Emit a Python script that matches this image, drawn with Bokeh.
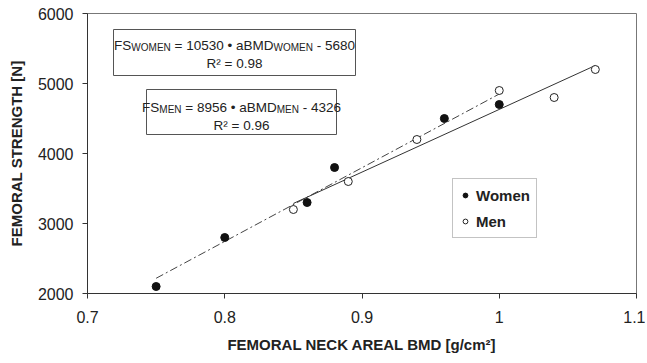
from bokeh.plotting import figure
from bokeh.models import Range1d, BoxAnnotation, Legend, LegendItem, FixedTicker
from bokeh.core.properties import value
from bokeh.embed import file_html
from bokeh.resources import INLINE

# ---- data ----
women_bmd = [0.75, 0.80, 0.86, 0.88, 0.96, 1.00]
women_fs = [2100, 2800, 3300, 3800, 4500, 4700]
men_bmd = [0.85, 0.89, 0.94, 1.00, 1.04, 1.07]
men_fs = [3200, 3600, 4200, 4900, 4800, 5200]

women_slope, women_intercept, women_r2 = 10530, -5680, 0.98
men_slope, men_intercept, men_r2 = 8956, -4326, 0.96
women_fit_x = [0.75, 1.00]
men_fit_x = [0.85, 1.07]

x_ticks = [0.7, 0.8, 0.9, 1.0, 1.1]
x_tick_labels = ["0.7", "0.8", "0.9", "1", "1.1"]
y_ticks = [2000, 3000, 4000, 5000, 6000]

FONT = "Liberation Sans"

# ---- layout (figure pixels) ----
FL, FT, FW, FH = 87, 13, 549, 280  # frame left/top/width/height
X0, X1, Y0, Y1 = 0.7, 1.1, 2000, 6000


def fx(px):
    return X0 + (px - FL) / FW * (X1 - X0)


def fy(py):
    return Y0 + (FT + FH - py) / FH * (Y1 - Y0)


p = figure(width=645, height=360, output_backend="svg", toolbar_location=None,
           x_range=Range1d(X0, X1), y_range=Range1d(Y0, Y1),
           min_border_left=87, min_border_right=9, min_border_top=13, min_border_bottom=67)
p.grid.grid_line_color = None
p.outline_line_color = "#777777"
p.outline_line_width = 1
p.background_fill_color = "white"

for ax in (p.xaxis[0], p.yaxis[0]):
    ax.axis_line_color = "#333333"
    ax.major_tick_line_color = "#333333"
    ax.major_tick_out = 5
    ax.major_tick_in = 0
    ax.minor_tick_line_color = None
    ax.major_label_text_font = FONT
    ax.major_label_text_font_size = "16px"
    ax.major_label_text_color = "#222222"
    ax.axis_label_text_font = FONT
    ax.axis_label_text_font_size = "15px"
    ax.axis_label_text_font_style = "bold"
    ax.axis_label_text_color = "#222222"

p.xaxis.ticker = FixedTicker(ticks=x_ticks)
p.xaxis.major_label_overrides = {t: l for t, l in zip(x_ticks, x_tick_labels)}
p.yaxis.ticker = FixedTicker(ticks=y_ticks)
p.xaxis.axis_label = "FEMORAL NECK AREAL BMD [g/cm²]"
p.yaxis.axis_label = "FEMORAL STRENGTH [N]"
p.xaxis.major_label_standoff = 12
p.xaxis.axis_label_standoff = 10
p.yaxis.major_label_standoff = 9
p.yaxis.axis_label_standoff = 10

# ---- fit lines ----
women_fit_y = [women_slope * x + women_intercept for x in women_fit_x]
men_fit_y = [men_slope * x + men_intercept for x in men_fit_x]
p.line(women_fit_x, women_fit_y, line_color="#444444", line_width=1, line_dash="8 3 2 3")
p.line(men_fit_x, men_fit_y, line_color="#333333", line_width=1)

# ---- points ----
rw = p.scatter(women_bmd, women_fs, marker="circle", size=8, fill_color="#111111",
               line_color="#111111")
rm = p.scatter(men_bmd, men_fs, marker="circle", size=8, fill_color="white",
               line_color="#222222", line_width=1)

# ---- equation boxes ----
W = {" ": 278, "=": 584, "•": 350, ".": 278, "-": 333, "a": 556, "B": 667, "D": 722,
     "E": 667, "F": 611, "M": 833, "N": 722, "O": 778, "R": 722, "S": 667, "W": 944, "²": 333}


def tw(s, size):
    return sum(W.get(c, 556) for c in s) * size / 1000.0


def rich(pieces, cx, base):
    total = sum(tw(t, sz) for t, sz, dy in pieces)
    x = cx - total / 2.0
    for t, sz, dy in pieces:
        lead = len(t) - len(t.lstrip(" "))
        x += tw(" " * lead, sz)
        core = t.strip(" ")
        p.text(x=[fx(x)], y=[fy(base + dy)], text=[core], text_font=value(FONT),
               text_font_size=f"{sz}px", text_baseline="alphabetic", text_align="left",
               text_color="#222222")
        x += tw(t.lstrip(" "), sz)


def box(l, r, t, b):
    p.add_layout(BoxAnnotation(left=fx(l), right=fx(r), top=fy(t), bottom=fy(b),
                               fill_color="white", fill_alpha=1.0, level="underlay",
                               line_color="#555555", line_width=1, line_alpha=1.0))


M, S = 13.5, 10
box(113, 355, 29, 75)
rich([("FS", M, 0), ("WOMEN", S, 2), (f" = {women_slope} • aBMD", M, 0), ("WOMEN", S, 2),
      (f" - {-women_intercept}", M, 0)], 234, 45)
rich([(f"R² = {women_r2}", M, 0)], 234, 63)

box(146, 336, 89, 134)
rich([("FS", M, 0), ("MEN", S, 2), (f" = {men_slope} • aBMD", M, 0), ("MEN", S, 2),
      (f" - {-men_intercept}", M, 0)], 241, 107)
rich([(f"R² = {men_r2}", M, 0)], 241, 125)

# ---- legend ----
legend = Legend(items=[LegendItem(label="Women", renderers=[rw]),
                       LegendItem(label="Men", renderers=[rm])],
                location=(365, 55), orientation="vertical",
                label_text_font=FONT, label_text_font_size="15px",
                label_text_font_style="bold", label_text_color="#222222",
                glyph_width=12, glyph_height=20, label_height=20, label_standoff=5,
                padding=6, spacing=6, margin=0,
                border_line_color="#888888", border_line_width=1,
                background_fill_color="white", background_fill_alpha=1.0)
p.add_layout(legend, "center")

open("out.html", "w").write(file_html(p, INLINE))
